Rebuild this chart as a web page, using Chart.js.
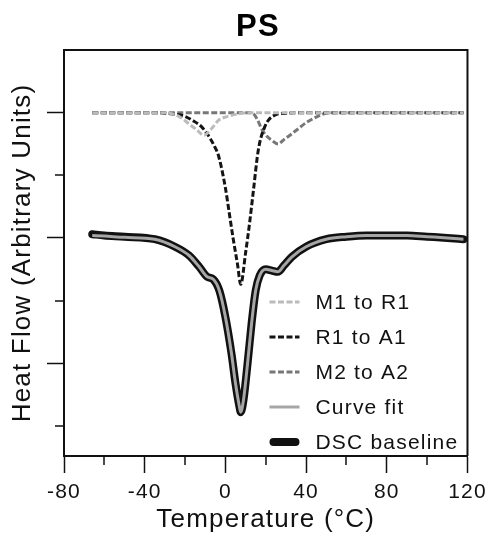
<!DOCTYPE html>
<html><head><meta charset="utf-8">
<script src="https://cdn.jsdelivr.net/npm/chart.js@4/dist/chart.umd.min.js"></script>
<style>html,body{margin:0;padding:0;background:#fff}#wrap{width:492px;height:536px;position:relative}canvas{display:block}</style>
</head><body><div id="wrap"><canvas id="c" width="492" height="536" style="width:492px;height:536px"></canvas></div>
<script>
const titleText = 'PS';
const xTitle = 'Temperature (°C)';
const yTitle = 'Heat Flow (Arbitrary Units)';
const seriesLabels = ['M1 to R1', 'R1 to A1', 'M2 to A2', 'Curve fit', 'DSC baseline'];
const xTickValues = [-80, -40, 0, 40, 80, 120];
const xMinorTicks = [-60, -20, 20, 60, 100];
const yMajorTicks = [0, 1, 2];
const yMinorTicks = [-0.5, 0.5, 1.5];

const m1r1T = [-66, -30, -26, -22, -18, -14, -10.7, -7, -3.3, 0, 4.9, 9, 118];
const m1r1Y = [2, 2, 1.99, 1.96, 1.91, 1.86, 1.82, 1.87, 1.94, 1.965, 1.986, 1.998, 2];

const r1a1T = [-66, -35, -26, -20, -16.5, -12, -9, -6, -3.3, 0, 2, 3.8, 6, 7.6, 10, 12, 13.9, 16.3, 19.6, 24.5, 30, 40, 118];
const r1a1Y = [2, 2, 1.99, 1.97, 1.94, 1.89, 1.83, 1.75, 1.65, 1.40, 1.19, 1.00, 0.79, 0.63, 0.88, 1.12, 1.38, 1.70, 1.89, 1.98, 1.995, 2, 2];

const m2a2T = [-66, 12, 14, 16, 18, 20, 23, 26.1, 29, 32, 36, 40, 45.8, 51, 118];
const m2a2Y = [2, 2, 1.99, 1.94, 1.87, 1.82, 1.78, 1.75, 1.785, 1.82, 1.87, 1.92, 1.97, 2, 2];

const dscT = [-66, -60, -50, -35, -25, -18, -13, -9, -6, -3, 0, 3, 5, 7, 7.6, 9, 11, 13, 15, 17, 20, 23, 26, 29, 33, 40, 50, 60, 70, 80, 90, 100, 110, 118];
const dscY = [1.03, 1.02, 1.01, 0.99, 0.93, 0.86, 0.77, 0.69, 0.67, 0.58, 0.37, 0.08, -0.16, -0.35, -0.39, -0.29, 0.0, 0.32, 0.58, 0.70, 0.75, 0.74, 0.73, 0.78, 0.85, 0.93, 0.99, 1.01, 1.02, 1.02, 1.02, 1.01, 1.00, 0.99];

const fitT = [-66, -60, -50, -35, -25, -18, -13, -9, -6, -3, 0, 3, 5, 7, 7.6, 9, 11, 13, 15, 17, 20, 23, 26, 29, 33, 40, 50, 60, 70, 80, 90, 100, 110, 118];
const fitY = [1.02, 1.015, 1.005, 0.99, 0.93, 0.86, 0.77, 0.69, 0.67, 0.58, 0.37, 0.08, -0.16, -0.35, -0.39, -0.29, 0.0, 0.32, 0.58, 0.70, 0.75, 0.74, 0.73, 0.78, 0.85, 0.93, 0.99, 1.01, 1.02, 1.02, 1.02, 1.01, 1.00, 0.99];

const pts = (xs, ys) => xs.map((x, i) => ({x: x, y: ys[i]}));
const FONT = "'Liberation Sans', Arial, Helvetica, sans-serif";

const textSpacing = {
  id: 'textSpacing',
  beforeDraw(chart) { chart.ctx.letterSpacing = '1.2px'; },
  afterDraw(chart) { chart.ctx.letterSpacing = '0px'; }
};

const frameAndMinor = {
  id: 'frameAndMinor',
  afterDraw(chart) {
    const {ctx, chartArea: a, scales: {x, y}} = chart;
    ctx.save();
    ctx.strokeStyle = '#111';
    ctx.lineWidth = 2;
    ctx.beginPath();
    ctx.moveTo(a.left, a.top); ctx.lineTo(a.right, a.top); ctx.lineTo(a.right, a.bottom);
    ctx.stroke();
    ctx.lineWidth = 1.5;
    ctx.beginPath();
    xMinorTicks.forEach(v => { const px = Math.round(x.getPixelForValue(v)); ctx.moveTo(px, a.bottom); ctx.lineTo(px, a.bottom + 9); });
    yMinorTicks.forEach(v => { const py = Math.round(y.getPixelForValue(v)); ctx.moveTo(a.left, py); ctx.lineTo(a.left - 9, py); });
    ctx.stroke();
    ctx.restore();
  }
};

const insideLegend = {
  id: 'insideLegend',
  afterDatasetsDraw(chart) {
    const {ctx, chartArea: a} = chart;
    const x0 = a.right - 198, y0 = a.bottom - 154, gap = 35;
    ctx.save();
    ctx.font = '21px ' + FONT;
    ctx.textBaseline = 'middle';
    ctx.fillStyle = '#111';
    chart.data.datasets.forEach((ds, i) => {
      const yy = y0 + i * gap;
      ctx.save();
      ctx.strokeStyle = ds.borderColor;
      ctx.lineWidth = ds.borderWidth;
      ctx.lineCap = ds.borderWidth > 4 ? 'round' : 'butt';
      ctx.setLineDash(ds.borderDash || []);
      ctx.beginPath();
      const inset = ds.borderWidth > 4 ? 4 : 0;
      ctx.moveTo(x0 + inset, yy); ctx.lineTo(x0 + 30 - inset, yy);
      ctx.stroke();
      ctx.restore();
      ctx.fillText(ds.label, x0 + 46, yy + 1);
    });
    ctx.restore();
  }
};

const dashed = [6, 2.5];
new Chart(document.getElementById('c'), {
  type: 'line',
  data: {
    datasets: [
      {label: seriesLabels[0], data: pts(m1r1T, m1r1Y), borderColor: '#bbbbbb', borderWidth: 3, borderDash: dashed},
      {label: seriesLabels[1], data: pts(r1a1T, r1a1Y), borderColor: '#141414', borderWidth: 3, borderDash: dashed},
      {label: seriesLabels[2], data: pts(m2a2T, m2a2Y), borderColor: '#777777', borderWidth: 3, borderDash: dashed},
      {label: seriesLabels[3], data: pts(fitT, fitY), borderColor: '#a6a6a6', borderWidth: 3},
      {label: seriesLabels[4], data: pts(dscT, dscY), borderColor: '#111111', borderWidth: 8, borderCapStyle: 'round', borderJoinStyle: 'round'}
    ]
  },
  options: {
    responsive: false,
    maintainAspectRatio: false,
    animation: false,
    devicePixelRatio: 1,
    elements: {point: {radius: 0, hoverRadius: 0}, line: {cubicInterpolationMode: 'monotone', fill: false}},
    layout: {padding: {left: 45, right: 21, top: 0, bottom: 0}},
    plugins: {
      legend: {display: false},
      tooltip: {enabled: false},
      title: {display: true, text: titleText, color: '#000', font: {family: FONT, size: 31, weight: 'bold', lineHeight: 1.2}, padding: {top: 8.5, bottom: 4.3}}
    },
    scales: {
      x: {
        type: 'linear', min: -80, max: 120,
        afterBuildTicks: s => { s.ticks = xTickValues.map(v => ({value: v})); },
        afterFit: s => { s.height = 80; },
        ticks: {color: '#111', font: {family: FONT, size: 21}, padding: 7, maxRotation: 0, autoSkip: false},
        grid: {drawOnChartArea: false, drawTicks: true, tickLength: 17, tickColor: '#111', tickWidth: 1.5},
        border: {display: true, color: '#111', width: 2},
        title: {display: true, text: xTitle, color: '#111', font: {family: FONT, size: 26}, padding: {top: 0, bottom: 1}}
      },
      y: {
        type: 'linear', min: -0.74, max: 2.5,
        afterBuildTicks: s => { s.ticks = yMajorTicks.map(v => ({value: v})); },
        afterFit: s => { s.width = 19; },
        ticks: {callback: () => '', padding: 0},
        grid: {drawOnChartArea: false, drawTicks: true, tickLength: 17, tickColor: '#111', tickWidth: 1.5},
        border: {display: true, color: '#111', width: 2},
        title: {display: true, text: yTitle, color: '#111', font: {family: FONT, size: 26}, padding: {top: -38, bottom: 0}}
      }
    }
  },
  plugins: [textSpacing, insideLegend, frameAndMinor]
});
</script>
</body></html>
